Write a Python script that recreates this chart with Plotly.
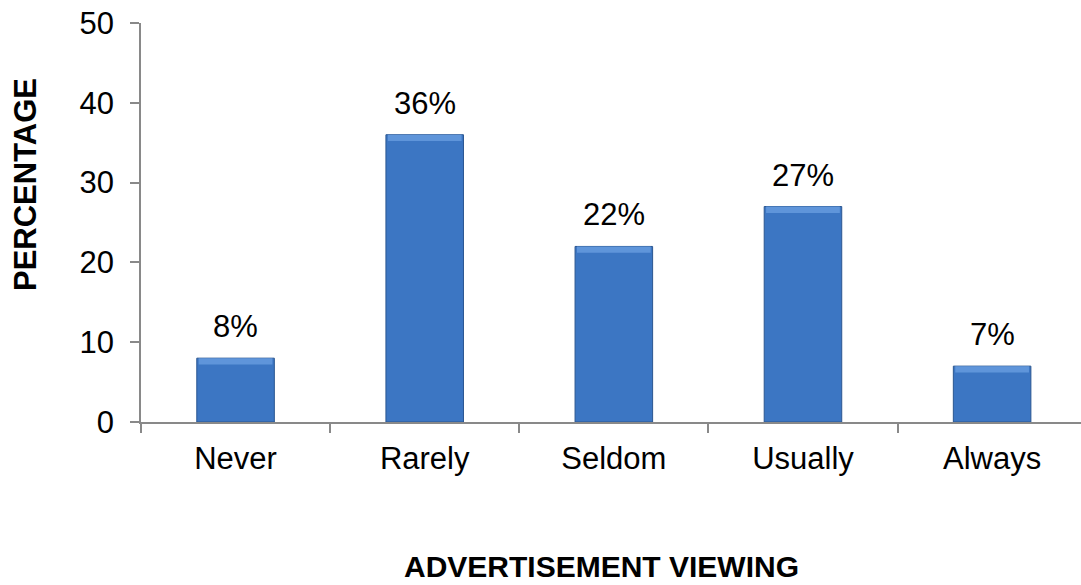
import plotly.graph_objects as go

categories = ["Never", "Rarely", "Seldom", "Usually", "Always"]
values = [8, 36, 22, 27, 7]
labels = ["8%", "36%", "22%", "27%", "7%"]
y_ticks = [0, 10, 20, 30, 40, 50]

FONT = "Liberation Sans, Arial, sans-serif"
AXIS = "#898989"
BEVEL = 0.8  # highlight depth in data units

fig = go.Figure()
fig.add_trace(go.Bar(
    x=categories, y=values, width=0.41,
    marker=dict(color="#3C76C3", line=dict(color="#2A5690", width=1)),
    hoverinfo="skip",
))
# top bevel highlight
fig.add_trace(go.Bar(
    x=categories, y=[BEVEL] * len(values), base=[v - BEVEL for v in values],
    width=0.39,
    marker=dict(color="#5F95DA", line=dict(width=0)),
    hoverinfo="skip",
))

for c, v, t in zip(categories, values, labels):
    fig.add_annotation(x=c, y=v, text=t, showarrow=False, yanchor="bottom",
                       yshift=12, font=dict(family=FONT, size=31, color="black"))

fig.add_annotation(xref="paper", yref="paper", x=-0.1223, y=0.594,
                   text="<b>PERCENTAGE</b>", textangle=-90, showarrow=False,
                   xanchor="center", yanchor="middle",
                   font=dict(family=FONT, size=31, color="black"))
fig.add_annotation(xref="paper", yref="paper", x=0.490, y=-0.361,
                   text="<b>ADVERTISEMENT VIEWING</b>", showarrow=False,
                   xanchor="center", yanchor="middle",
                   font=dict(family=FONT, size=30, color="black"))

fig.update_layout(
    width=1081, height=585,
    margin=dict(l=141, r=0, t=23, b=163),
    plot_bgcolor="white", paper_bgcolor="white",
    showlegend=False, barmode="overlay",
    font=dict(family=FONT, size=31, color="black"),
    xaxis=dict(range=[-0.5, 4.47], showline=True, linecolor=AXIS, linewidth=1.5,
               ticks="outside", tickson="boundaries", ticklen=9, tickcolor=AXIS,
               tickwidth=1.5, showgrid=False, zeroline=False, ticklabelstandoff=8,
               tickfont=dict(family=FONT, size=31, color="black")),
    yaxis=dict(range=[0, 50], tickvals=y_ticks, showline=True, linecolor=AXIS,
               linewidth=1.5, ticks="outside", ticklen=9, tickcolor=AXIS, tickwidth=1.5,
               showgrid=False, zeroline=False, ticklabelstandoff=10,
               tickfont=dict(family=FONT, size=31, color="black")),
)

fig.write_html("out.html")
